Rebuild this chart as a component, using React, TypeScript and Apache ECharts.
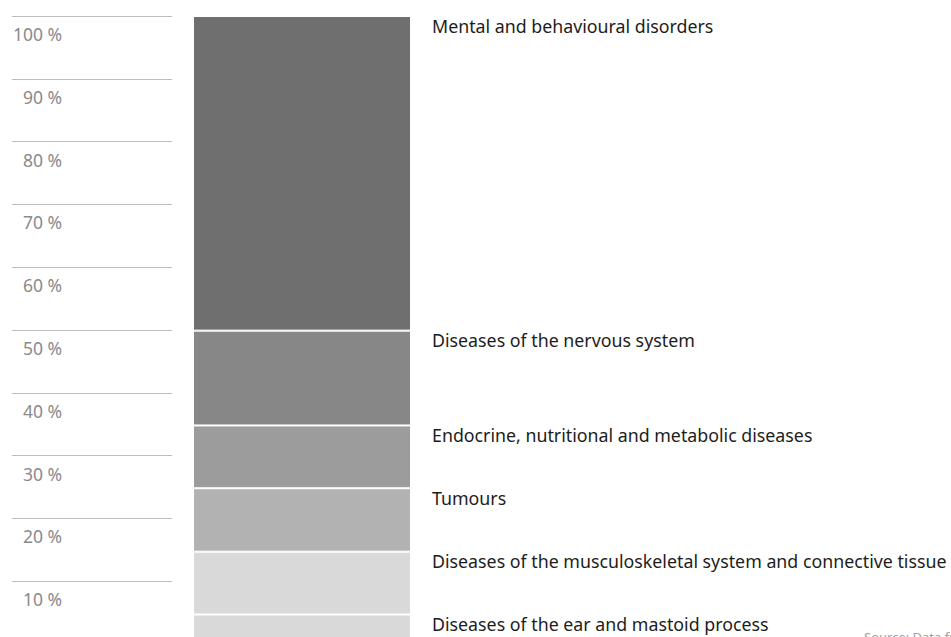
import React, { useEffect, useRef } from "react";
import * as echarts from "echarts";

// Share of cases by diagnosis group, stacked bottom to top (percent)
const groups = [
  "Diseases of the ear and mastoid process",
  "Diseases of the musculoskeletal system and connective tissue",
  "Tumours",
  "Endocrine, nutritional and metabolic diseases",
  "Diseases of the nervous system",
  "Mental and behavioural disorders",
];
const shares = [4.7, 10.0, 10.1, 10.0, 15.1, 50.1];
const groupColors = ["#d9d9d9", "#d9d9d9", "#b2b2b2", "#9c9c9c", "#878787", "#6f6f6f"];
const yTicks = [0, 10, 20, 30, 40, 50, 60, 70, 80, 90, 100];
const sourceNote = "Source: Data from";

const FONT = "'Noto Sans', sans-serif";

export default function App() {
  const ref = useRef<HTMLDivElement>(null);

  useEffect(() => {
    if (!ref.current) return;
    const chart = echarts.init(ref.current, null, { renderer: "svg" });

    // the plot runs past the bottom edge, 0 % sits just below the frame
    const top = 16;
    const height = 628;

    const series = groups.map((name, i) => ({
      name,
      type: "bar",
      stack: "total",
      xAxisIndex: 1,
      yAxisIndex: 1,
      barWidth: "100%",
      data: [shares[i]],
      itemStyle: { color: groupColors[i], borderColor: "#ffffff", borderWidth: 1 },
      label: {
        show: true,
        position: [239, 9.5],
        verticalAlign: "middle",
        align: "left",
        formatter: name,
        color: "#1d1d1b",
        fontFamily: FONT,
        fontSize: 17.8,
      },
      emphasis: { disabled: true },
    }));

    chart.setOption({
      animation: false,
      grid: [
        { left: 12, width: 160, top, height, outerBoundsMode: "none" },
        { left: 193, width: 218, top, height, outerBoundsMode: "none" },
      ],
      xAxis: [
        { type: "value", gridIndex: 0, show: false },
        { type: "category", gridIndex: 1, data: ["share"], show: false },
      ],
      yAxis: [
        {
          type: "value",
          gridIndex: 0,
          min: yTicks[0],
          max: yTicks[yTicks.length - 1],
          interval: 10,
          offset: -50,
          axisLine: { show: false },
          axisTick: { show: false },
          splitLine: { show: true, lineStyle: { color: "#bdbdbd", width: 1 } },
          axisLabel: {
            margin: 0,
            align: "right",
            verticalAlign: "top",
            padding: [9, 0, 0, 0],
            color: "#8a8a8a",
            fontFamily: FONT,
            fontSize: 17.5,
            formatter: (v: number) => (v === 0 ? "" : `${v} %`),
          },
        },
        {
          type: "value",
          gridIndex: 1,
          min: 0,
          max: 100,
          show: false,
          splitLine: { show: false },
        },
      ],
      series,
      graphic: [
        {
          type: "text",
          left: 864,
          top: 630,
          style: { text: sourceNote, fill: "#a0a0a0", font: `13px ${FONT}` },
        },
      ],
    });

    return () => chart.dispose();
  }, []);

  return (
    <div
      ref={ref}
      style={{ position: "absolute", left: 0, top: 0, width: 951, height: 637, background: "#fff" }}
    />
  );
}
